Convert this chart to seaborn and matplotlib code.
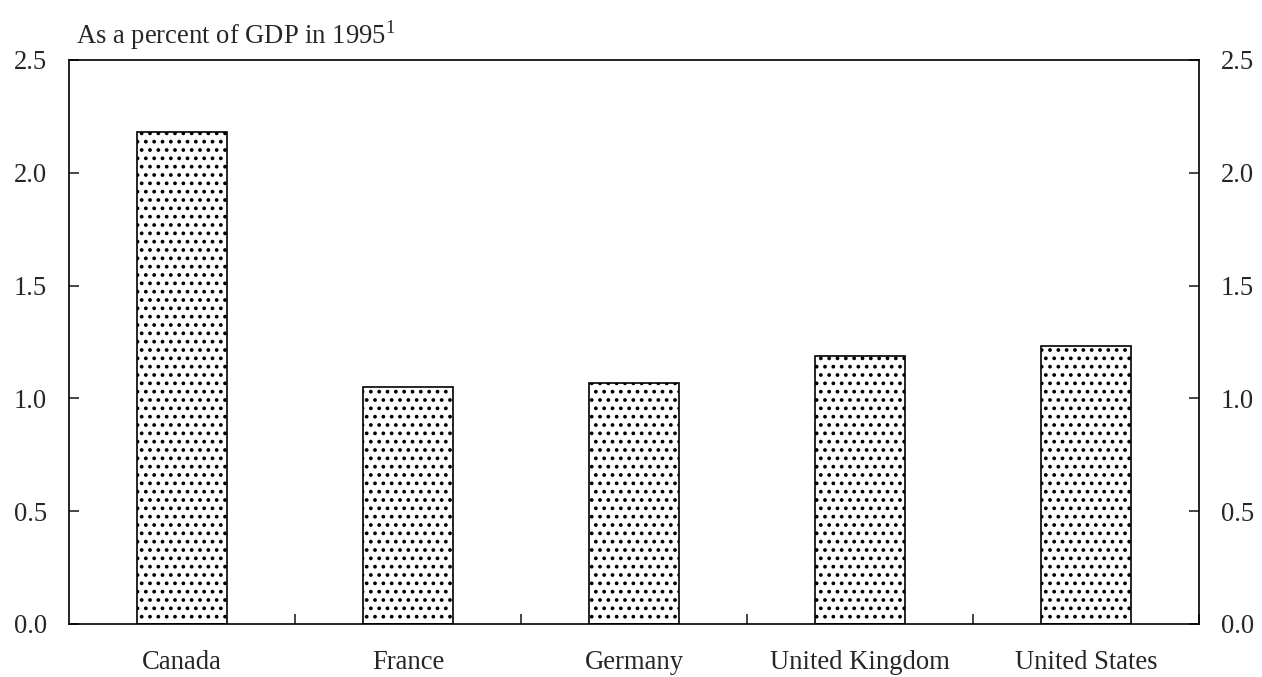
import numpy as np
import pandas as pd
import seaborn as sns
import matplotlib.pyplot as plt

countries = ['Canada', 'France', 'Germany', 'United Kingdom', 'United States']
pct_gdp = [2.18, 1.05, 1.07, 1.19, 1.23]
y_ticks = [0.0, 0.5, 1.0, 1.5, 2.0, 2.5]

df = pd.DataFrame({'country': countries, 'value': pct_gdp})

sns.set_style('white')
plt.rcParams['font.family'] = ['Liberation Serif', 'DejaVu Serif']
plt.rcParams['hatch.linewidth'] = 1.5
FS = 19.2

fig, ax = plt.subplots(figsize=(12.62, 6.77), dpi=100)
fig.subplots_adjust(left=0.0547, right=0.950, top=0.9114, bottom=0.0783)

sns.barplot(data=df, x='country', y='value', ax=ax, color='white',
            edgecolor='black', linewidth=1.2, width=0.4, saturation=1)
for p in ax.patches:
    p.set_hatch('..')

ax.set_xlim(-0.5, len(countries) - 0.5)
ax.set_ylim(0, 2.5)
ax.set_yticks(y_ticks)
ax.set_yticklabels([f'{v:.1f}' for v in y_ticks])

# ticks sit between the categories, names centred under the bars
ax.set_xticks(np.arange(len(countries)) + 0.5, minor=False)
ax.set_xticklabels([])
ax.set_xticks(np.arange(len(countries)), minor=True)
ax.set_xticklabels(countries, minor=True)
ax.tick_params(axis='x', which='major', direction='in', length=7, width=1.2, bottom=True)
ax.tick_params(axis='x', which='minor', length=0, pad=19, labelsize=FS)
ax.tick_params(axis='y', direction='in', length=7, width=1.2, left=True, right=True,
               labelleft=True, labelright=True, labelsize=FS, pad=16)

for s in ax.spines.values():
    s.set_color('black')
    s.set_linewidth(1.2)

ax.set_xlabel('')
ax.set_ylabel('')
ax.text(0.006, 1.014, r'As a percent of GDP in 1995$^{\mathregular{1}}$', transform=ax.transAxes,
        fontsize=FS, ha='left', va='bottom')

fig.savefig('out.png', dpi=100)
